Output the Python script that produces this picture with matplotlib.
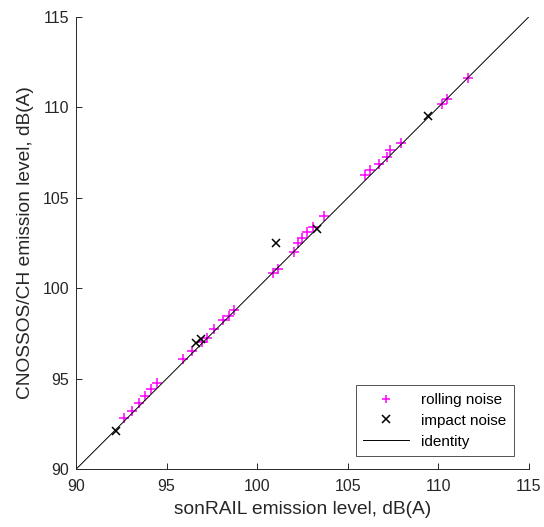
import matplotlib
matplotlib.use("Agg")
import matplotlib.pyplot as plt

# Emission levels in dB(A): sonRAIL (x) vs CNOSSOS/CH (y)
rolling_sonrail = [92.67, 93.07, 93.49, 93.79, 94.16, 94.49, 95.92, 96.39, 96.95,
                   97.25, 97.63, 98.13, 98.44, 98.74, 100.86, 101.16, 102.05,
                   102.27, 102.46, 102.73, 103.06, 103.69, 105.95, 106.23, 106.74,
                   107.15, 107.33, 107.94, 110.18, 110.46, 111.65]
rolling_cnossos = [92.82, 93.24, 93.65, 94.05, 94.44, 94.75, 96.08, 96.54, 97.02,
                   97.27, 97.73, 98.25, 98.47, 98.80, 100.86, 101.07, 102.02,
                   102.52, 102.80, 103.09, 103.40, 103.99, 106.26, 106.54, 106.87,
                   107.24, 107.64, 108.04, 110.18, 110.46, 111.64]

impact_sonrail = [92.19, 96.62, 96.88, 101.02, 103.30, 109.44]
impact_cnossos = [92.12, 96.96, 97.18, 102.52, 103.26, 109.52]

identity = [90, 115]
ticks = [90, 95, 100, 105, 110, 115]

plt.rcParams['font.family'] = ['Liberation Sans', 'DejaVu Sans']

fig = plt.figure(figsize=(5.44, 5.27), dpi=100)
ax = fig.add_axes([0.1397, 0.1095, 0.8327, 0.8588])

axis_color = '#262626'
ax.plot(rolling_sonrail, rolling_cnossos, linestyle='none', marker='+',
        color='#ff00ff', markersize=7.5, markeredgewidth=1.1, label='rolling noise')
ax.plot(impact_sonrail, impact_cnossos, linestyle='none', marker='x',
        color='black', markersize=6, markeredgewidth=1.1, label='impact noise')
ax.plot(identity, identity, color='black', linewidth=0.7, label='identity')

ax.set_xlim(90, 115)
ax.set_ylim(90, 115)
ax.set_xticks(ticks)
ax.set_yticks(ticks)
ax.tick_params(direction='in', length=4, width=0.7, colors=axis_color,
               labelsize=11.5, labelcolor=axis_color)
ax.tick_params(axis='x', pad=7)
ax.tick_params(axis='y', pad=5)
for side in ('top', 'right'):
    ax.spines[side].set_visible(False)
for side in ('left', 'bottom'):
    ax.spines[side].set_color(axis_color)
    ax.spines[side].set_linewidth(0.7)

ax.set_xlabel('sonRAIL emission level, dB(A)', fontsize=13.8, color=axis_color, labelpad=5)
ax.set_ylabel('CNOSSOS/CH emission level, dB(A)', fontsize=13.8, color=axis_color, labelpad=6)

leg = ax.legend(loc='lower right', fontsize=11, frameon=True, fancybox=False,
                edgecolor=axis_color, borderpad=0.5, labelspacing=0.45,
                handlelength=3.0, markerscale=0.85, borderaxespad=0,
                bbox_to_anchor=(0.9677, 0.0287))
leg.get_frame().set_linewidth(0.7)

fig.savefig('out.png', dpi=100)
